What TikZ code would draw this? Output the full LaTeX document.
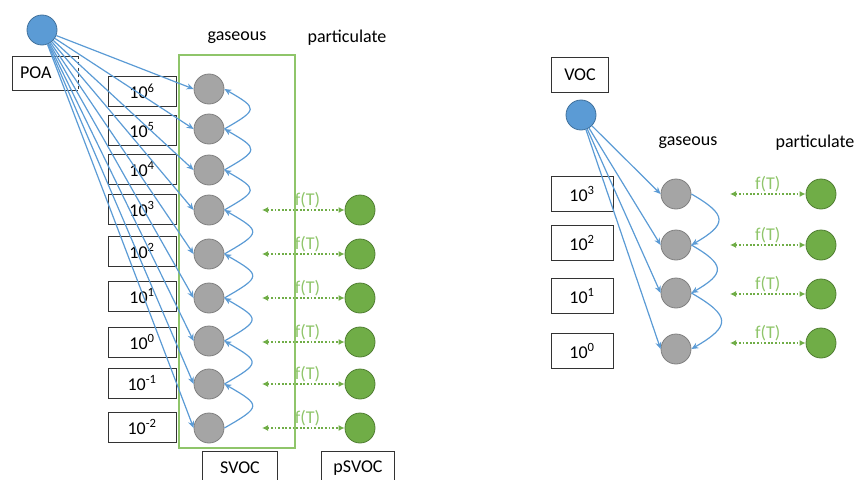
\documentclass[tikz,border=0pt]{standalone}
\usepackage{fontspec}
\setmainfont{Carlito}
\usetikzlibrary{arrows.meta}
\definecolor{azul}{HTML}{5B9BD5}
\definecolor{azulesc}{HTML}{41719C}
\definecolor{cinza}{HTML}{A5A5A5}
\definecolor{cinzaesc}{HTML}{808080}
\definecolor{verde}{HTML}{70AD47}
\definecolor{verdeesc}{HTML}{507E32}
\definecolor{verdeclaro}{HTML}{8FC56A}

\begin{document}
\begin{tikzpicture}[
    x=1pt, y=1pt,
    font=\fontsize{18}{21}\selectfont,
    caixa/.style={
        rectangle, draw=black!80, fill=white, line width=1pt,
        minimum width=68pt, minimum height=30pt, inner sep=0pt
    },
    bola/.style={circle, minimum size=30pt, inner sep=0pt, line width=0.8pt},
    bolaazul/.style={bola, draw=azulesc, fill=azul},
    bolacinza/.style={bola, draw=cinzaesc, fill=cinza},
    bolaverde/.style={bola, draw=verdeesc, fill=verde},
    seta/.style={-{Stealth[length=7pt, width=6pt]}, color=azul, line width=1.2pt},
    troca/.style={
        {Latex[length=6pt, width=6pt]}-{Latex[length=6pt, width=6pt]},
        color=verde, line width=1.5pt, dash pattern=on 1.8pt off 1.8pt
    },
    rotulo/.style={text=verdeclaro, inner sep=1pt},
    moldura/.style={draw=verdeclaro, line width=1.3pt}
]
\useasboundingbox (0,0) rectangle (856,-479);
\clip (0,0) rectangle (856,-479);

\draw[moldura] (179,-55) rectangle (295,-448);
\node (gasA) at (237,-38) {gaseous};
\node (partA) at (347,-38) {particulate};
\node[caixa, minimum width=75pt, minimum height=34pt] (svoc) at (240,-468) {SVOC};
\node[caixa, minimum width=73pt, minimum height=34pt] (psvoc) at (358,-468) {pSVOC};

\node[bolaazul] (poa) at (42,-30) {};
\node[caixa, minimum width=66pt, minimum height=34pt, text width=50pt] (poalab) at (45,-73) {POA};
\draw[white, line width=1.2pt] (poalab.north east) -- (poalab.south east);
\draw[black!80, dashed, line width=1pt] (poalab.north east) -- (poalab.south east);

\foreach \n/\yg/\yc/\e in {1/89/91/6, 2/129/130/5, 3/170/169/4, 4/210/209/3, 5/254/251/2,
                           6/298/296/1, 7/341/342/0, 8/384/383/-1, 9/428/427/-2} {
    \node[caixa] (c\n) at (142,-\yc) {10\textsuperscript{\e}};
    \node[bolacinza] (g\n) at (209,-\yg) {};
}
\foreach \n/\y in {4/210, 5/254, 6/298, 7/342, 8/384, 9/428} {
    \node[bolaverde] (p\n) at (360,-\y) {};
    \coordinate (t\n) at (262,-\y);
}

\foreach \n in {1,...,9}
    \draw[seta] (poa) -- (g\n.west);
\foreach \n in {1,...,8} {
    \pgfmathtruncatemacro{\m}{\n+1}
    \draw[seta] (g\m.east) to[out=30, in=-30, looseness=2.5] (g\n.east);
}
\foreach \n in {4,...,9}
    \draw[troca] (t\n) -- (p\n.west) node[pos=0.55, above, rotulo] {f(T)};

\node[caixa, minimum width=57pt, minimum height=35pt] (voclab) at (580,-75) {VOC};
\node[bolaazul] (voc) at (581,-115) {};
\node (gasB) at (688,-143) {gaseous};
\node (partB) at (815,-143) {particulate};

\foreach \n/\yg/\yc/\yp/\e in {1/194/194/194/3, 2/245/243/245/2, 3/293/296/294/1, 4/349/351/343/0} {
    \node[caixa, minimum width=62pt, minimum height=35pt] (d\n) at (582,-\yc) {10\textsuperscript{\e}};
    \node[bolacinza] (h\n) at (676,-\yg) {};
    \node[bolaverde] (q\n) at (821,-\yp) {};
    \coordinate (u\n) at (730,-\yp);
}

\foreach \n in {1,...,4}
    \draw[seta] (voc) -- (h\n.west);
\foreach \n in {1,...,3} {
    \pgfmathtruncatemacro{\m}{\n+1}
    \draw[seta] (h\n.east) to[out=-30, in=30, looseness=2.1] (h\m.east);
}
\foreach \n in {1,...,4}
    \draw[troca] (u\n) -- (q\n.west) node[midway, above, rotulo] {f(T)};
\end{tikzpicture}
\end{document}
